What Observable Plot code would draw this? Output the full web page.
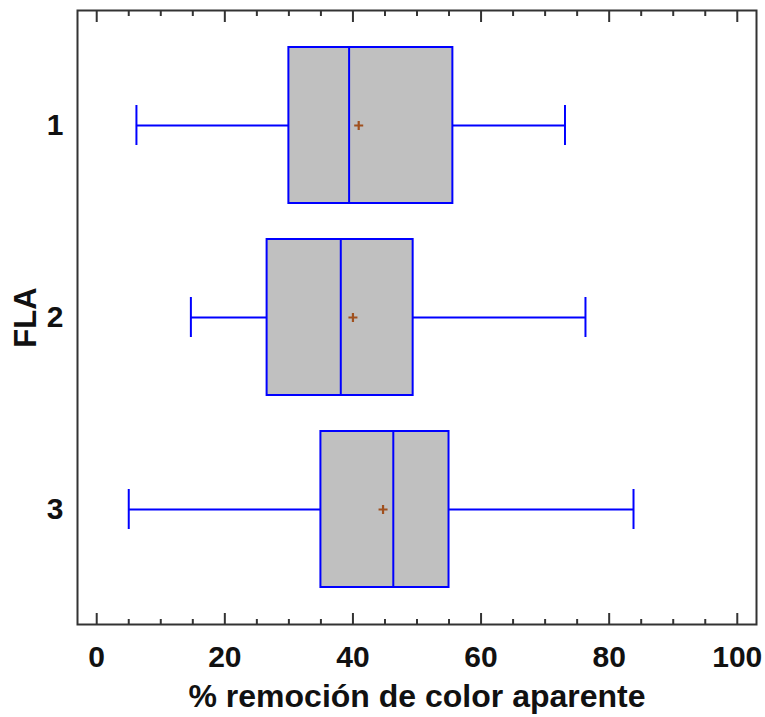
<!DOCTYPE html>
<html>
<head>
<meta charset="utf-8">
<script src="https://cdn.jsdelivr.net/npm/d3@7"></script>
<script src="https://cdn.jsdelivr.net/npm/@observablehq/plot@0.6"></script>
<style>
  html, body { margin: 0; padding: 0; background: #fff; }
</style>
</head>
<body>
<div id="chart"></div>
<script>
// Data
const groups   = ["1", "2", "3"];
const whiskLo  = [6.2, 14.7, 5.0];
const q1       = [30.0, 26.6, 35.0];
const medians  = [39.4, 38.1, 46.3];
const means    = [40.9, 40.0, 44.7];
const q3       = [55.6, 49.4, 55.0];
const whiskHi  = [73.1, 76.3, 83.8];

const xMajorTicks = [0, 20, 40, 60, 80, 100];
const xMinorTicks = d3.range(0, 101, 5).filter(v => v % 20 !== 0);
const xLabel = "% remoción de color aparente";
const yLabel = "FLA";

const rows = groups.map((g, i) => ({
  g, lo: whiskLo[i], q1: q1[i], med: medians[i], mean: means[i], q3: q3[i], hi: whiskHi[i]
}));

const boxStroke = "#0000ff";
const frameColor = "#333333";
const plusSymbol = {
  draw(context, size) {
    const r = Math.sqrt(size / Math.PI);
    context.moveTo(-r, 0); context.lineTo(r, 0);
    context.moveTo(0, -r); context.lineTo(0, r);
  }
};

const chart = Plot.plot({
  width: 765,
  height: 717,
  marginLeft: 77,
  marginRight: 9,
  marginTop: 10,
  marginBottom: 93,
  style: {fontFamily: "'Liberation Sans', Arial, sans-serif", fontSize: "30px", fontWeight: "bold", color: "#111", background: "#fff"},
  x: {domain: [-3, 103]},
  y: {domain: groups, paddingInner: 0.19, paddingOuter: 0.187},
  marks: [
    // whiskers
    Plot.ruleY(rows, {y: "g", x1: "lo", x2: "q1", stroke: boxStroke, strokeWidth: 2}),
    Plot.ruleY(rows, {y: "g", x1: "q3", x2: "hi", stroke: boxStroke, strokeWidth: 2}),
    Plot.tickX(rows, {x: "lo", y: "g", stroke: boxStroke, strokeWidth: 2, insetTop: 58, insetBottom: 58}),
    Plot.tickX(rows, {x: "hi", y: "g", stroke: boxStroke, strokeWidth: 2, insetTop: 58, insetBottom: 58}),
    // boxes
    Plot.barX(rows, {y: "g", x1: "q1", x2: "q3", fill: "#c0c0c0", stroke: boxStroke, strokeWidth: 2}),
    Plot.tickX(rows, {x: "med", y: "g", stroke: boxStroke, strokeWidth: 2}),
    // means
    Plot.dot(rows, {x: "mean", y: "g", symbol: plusSymbol, r: 4.5, stroke: "#a0501e", strokeWidth: 2.2, fill: "none"}),
    // frame
    Plot.frame({stroke: frameColor, strokeWidth: 2}),
    // inward ticks
    Plot.axisX({anchor: "bottom", ticks: xMajorTicks, tickSize: -11, tickFormat: () => "", label: null, stroke: frameColor, strokeWidth: 2}),
    Plot.axisX({anchor: "bottom", ticks: xMinorTicks, tickSize: -5, tickFormat: () => "", label: null, stroke: frameColor, strokeWidth: 2}),
    Plot.axisX({anchor: "top", ticks: xMajorTicks, tickSize: -11, tickFormat: () => "", label: null, stroke: frameColor, strokeWidth: 2}),
    Plot.axisX({anchor: "top", ticks: xMinorTicks, tickSize: -5, tickFormat: () => "", label: null, stroke: frameColor, strokeWidth: 2}),
    // tick labels
    Plot.axisX({anchor: "bottom", ticks: xMajorTicks, tickSize: 0, tickPadding: 21, label: null, fill: "#111", fontSize: 30}),
    Plot.axisY({anchor: "left", tickSize: 0, tickPadding: 14, label: null, fill: "#111", fontSize: 30}),
    // axis titles
    Plot.text([xLabel], {text: d => d, frameAnchor: "bottom", lineAnchor: "top", dy: 60, fill: "#111", fontSize: 32}),
    Plot.text([yLabel], {text: d => d, frameAnchor: "left", dx: -51, rotate: -90, textAnchor: "middle", lineAnchor: "middle", fill: "#111", fontSize: 31})
  ]
});

document.getElementById("chart").appendChild(chart);
</script>
</body>
</html>
